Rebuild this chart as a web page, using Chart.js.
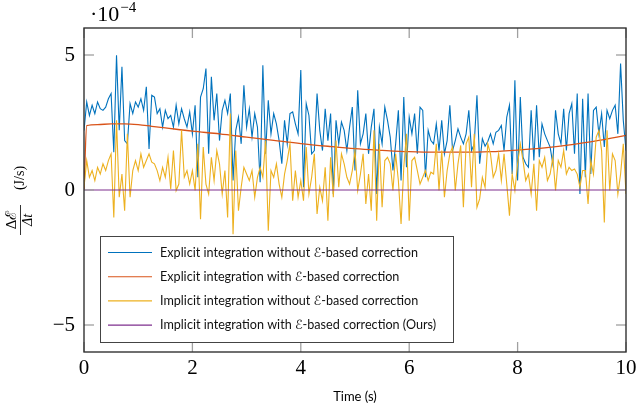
<!DOCTYPE html>
<html>
<head>
<meta charset="utf-8">
<script src="https://cdn.jsdelivr.net/npm/chart.js@4.4.1/dist/chart.umd.min.js"></script>
<style>
  html,body{margin:0;padding:0;background:#fff}
  canvas{display:block}
</style>
</head>
<body>
<canvas id="energyChart" width="637" height="414"></canvas>
<script>
// values are in units of 1e-4 J/s (axis shows the ·10^-4 multiplier)
const DT = 0.05;
const TIMES = Array.from({length:201},(_,i)=>+(i*DT).toFixed(2));

const EXPLICIT_NO_CORR = [
  2.20,3.26,2.76,3.14,2.83,3.26,3.01,2.95,3.07,3.38,3.57,1.40,4.99,2.21,4.56,1.83,1.71,3.20,2.83,3.26,3.07,3.38,2.95,3.82,1.52,
  3.51,3.44,2.83,3.01,2.33,2.95,2.64,2.76,2.33,3.14,2.45,3.01,2.64,2.33,2.89,2.08,3.14,0.47,3.44,3.75,4.50,1.34,4.19,2.58,3.57,1.83,
  2.95,3.32,2.83,3.57,0.35,2.21,2.70,1.71,3.88,2.33,3.01,1.96,2.83,2.33,0.29,4.62,1.34,3.32,2.08,2.83,2.45,1.83,0.97,2.58,1.71,
  2.83,2.89,2.45,2.08,4.44,0.10,3.20,2.76,1.34,1.46,3.57,2.21,1.46,3.01,1.83,2.83,-0.15,2.58,1.71,2.52,2.21,1.46,2.33,3.07,0.72,
  3.69,1.71,2.08,2.83,1.34,2.33,3.01,-0.15,2.33,1.71,3.07,2.58,1.96,0.72,1.71,2.95,0.35,3.44,0.84,2.70,2.08,2.83,1.34,3.07,2.95,
  0.47,2.21,1.83,1.71,2.45,1.46,2.58,1.34,1.83,3.14,1.46,1.83,2.27,1.96,1.71,2.08,2.95,1.46,1.71,3.51,0.97,1.90,1.62,1.80,2.08,
  1.71,2.14,2.21,2.39,1.46,2.70,3.14,0.59,4.06,0.35,3.44,1.21,0.97,0.84,2.95,1.09,3.14,1.21,2.45,2.08,1.83,1.59,0.97,2.95,2.08,
  1.71,3.01,1.46,2.83,3.20,1.34,3.57,-0.15,3.38,0.47,3.57,0.59,2.95,3.07,2.08,2.83,1.59,2.95,2.64,2.95,3.14,2.08,4.68,2.58,1.46
];

const IMPLICIT_NO_CORR = [
  0.10,1.09,0.47,0.72,0.35,0.84,0.59,0.97,0.72,1.09,1.34,-1.02,2.58,-0.27,0.59,-0.77,2.08,-0.27,0.72,1.09,0.72,1.34,0.84,1.09,1.34,
  1.03,0.97,0.72,0.35,0.84,0.47,1.21,0.04,1.46,-0.02,0.22,2.21,0.47,0.72,0.22,0.72,-0.02,1.71,-1.08,1.59,0.22,-0.15,1.21,0.35,1.46,0.97,
  -0.15,0.72,-1.02,2.83,-1.64,1.46,-0.77,0.10,0.84,0.59,0.35,0.72,-0.27,0.47,0.84,0.47,1.83,-1.51,0.72,0.47,0.97,0.22,-0.27,0.59,1.09,
  1.71,-0.40,0.72,-0.27,0.35,-0.40,1.59,-0.15,0.47,1.34,-0.89,0.10,-0.40,0.84,-1.14,1.21,-0.27,1.83,0.10,1.34,0.97,0.47,0.22,0.72,1.46,
  -0.02,0.59,1.34,-0.52,0.59,-0.77,2.21,-1.14,1.71,-0.64,1.09,1.21,0.97,-0.02,1.34,0.35,-1.26,0.84,2.08,-1.14,1.09,1.21,0.72,0.22,0.47,
  0.72,0.35,0.66,0.59,1.71,-0.02,1.46,-0.27,0.72,1.34,1.59,-0.02,0.97,1.65,-0.64,1.71,1.96,0.10,2.08,-0.64,-0.33,0.47,0.10,1.71,1.34,
  0.47,0.72,1.34,0.35,1.34,0.22,-0.95,0.59,-0.02,0.97,1.71,1.09,0.35,0.59,-0.15,0.97,-0.77,1.09,0.84,1.21,0.35,0.59,1.21,-0.02,1.09,
  0.84,1.46,0.59,0.84,0.72,0.78,0.59,0.10,0.72,0.72,-0.52,1.09,0.59,1.96,2.21,1.46,-1.20,2.21,-0.02,1.34,1.09,-0.15,0.59,1.71,-0.15
];

// smooth curve, sampled more sparsely
const EXPLICIT_CORR_T = [0,0.05,0.25,0.5,0.75,1,1.25,1.5,2,2.5,3,3.5,4,4.5,5,5.5,6,6.5,7,7.5,8,8.5,9,9.5,10];
const EXPLICIT_CORR   = [0,2.38,2.42,2.45,2.45,2.42,2.36,2.30,2.18,2.08,1.96,1.84,1.72,1.62,1.53,1.47,1.42,1.40,1.40,1.42,1.48,1.56,1.68,1.84,2.02];

const IMPLICIT_CORR_T = [0,10];
const IMPLICIT_CORR   = [0,0];

const X_TICKS = [0,2,4,6,8,10];
const Y_TICKS = [-5,0,5];

const SERIES_NAMES = [
  'Explicit integration without \u2130-based correction',
  'Explicit integration with \u2130-based correction',
  'Implicit integration without \u2130-based correction',
  'Implicit integration with \u2130-based correction (Ours)'
];
const COLORS = ['#0072BD','#D95319','#EDB120','#7E2F8E'];

const pts=(xs,ys)=>xs.map((x,i)=>({x,y:ys[i]}));
const SERIF='"Liberation Serif","DejaVu Serif",serif';
const SANS='Lato,"DejaVu Sans",sans-serif';

const decor = {
  id:'decor',
  afterDraw(chart){
    const {ctx, chartArea:a, scales:{x,y}} = chart;
    const ln=(x1,y1,x2,y2)=>{ctx.beginPath();ctx.moveTo(x1,y1);ctx.lineTo(x2,y2);ctx.stroke();};
    ctx.save();
    // inward ticks
    ctx.strokeStyle='#a0a0a0'; ctx.lineWidth=1.3;
    X_TICKS.forEach(v=>{const p=x.getPixelForValue(v); ln(p,a.bottom,p,a.bottom-10); ln(p,a.top,p,a.top+10);});
    Y_TICKS.forEach(v=>{const p=y.getPixelForValue(v); ln(a.left,p,a.left+10,p); ln(a.right,p,a.right-10,p);});
    // frame
    ctx.strokeStyle='#333'; ctx.lineWidth=1.4;
    ctx.strokeRect(a.left,a.top,a.right-a.left,a.bottom-a.top);
    // tick labels
    ctx.fillStyle='#000'; ctx.font='21px '+SERIF;
    ctx.textAlign='center'; ctx.textBaseline='top';
    X_TICKS.forEach(v=>ctx.fillText(String(v),x.getPixelForValue(v),a.bottom+6));
    ctx.textAlign='right'; ctx.textBaseline='middle';
    Y_TICKS.forEach(v=>ctx.fillText(v<0?'\u2212'+Math.abs(v):String(v),a.left-9,y.getPixelForValue(v)));
    // multiplier
    ctx.textAlign='left'; ctx.textBaseline='alphabetic';
    ctx.font='22px '+SERIF; ctx.fillText('\u00b710',90,21);
    const w=ctx.measureText('\u00b710').width;
    ctx.font='15px '+SERIF; ctx.fillText('\u22124',90+w+1,12);
    // x title
    ctx.font='13px '+SANS; ctx.textAlign='center'; ctx.textBaseline='middle';
    ctx.fillText('Time (s)',(a.left+a.right)/2,397);
    // y title (rotated fraction)
    ctx.save();
    ctx.translate(20,199); ctx.rotate(-Math.PI/2);
    ctx.textAlign='center'; ctx.textBaseline='middle';
    ctx.font='15px '+SERIF; ctx.fillText('\u0394\u2130',-21,-8);
    ctx.font='italic 14px '+SERIF; ctx.fillText('\u0394t',-21,8);
    ctx.lineWidth=0.8; ctx.strokeStyle='#000'; ln(-36,0.5,-6,0.5);
    ctx.font='14px '+SERIF; ctx.fillText('(J/s)',21,0);
    ctx.restore();
    // legend box
    const L={x:100,y:236,w:353,h:106};
    ctx.fillStyle='#fff'; ctx.fillRect(L.x,L.y,L.w,L.h);
    ctx.strokeStyle='#444'; ctx.lineWidth=1; ctx.strokeRect(L.x+0.5,L.y+0.5,L.w,L.h);
    ctx.font='12px '+SANS;
    const fs=12*258/ctx.measureText(SERIES_NAMES[0]).width;
    ctx.font=fs.toFixed(2)+'px '+SANS;
    ctx.textAlign='left'; ctx.textBaseline='middle';
    SERIES_NAMES.forEach((name,i)=>{
      const ry=252.5+i*24.2;
      ctx.strokeStyle=COLORS[i]; ctx.lineWidth=1.1; ln(108,ry,152,ry);
      ctx.fillStyle='#111'; ctx.fillText(name,160,ry);
    });
    ctx.restore();
  }
};

const lineDs=(label,data,color,extra)=>Object.assign({
  label,data,borderColor:color,backgroundColor:color,borderWidth:1.1,
  pointRadius:0,tension:0,fill:false
},extra||{});

new Chart(document.getElementById('energyChart'),{
  type:'line',
  data:{datasets:[
    lineDs(SERIES_NAMES[3],pts(IMPLICIT_CORR_T,IMPLICIT_CORR),COLORS[3]),
    lineDs(SERIES_NAMES[2],pts(TIMES,IMPLICIT_NO_CORR),COLORS[2]),
    lineDs(SERIES_NAMES[1],pts(EXPLICIT_CORR_T,EXPLICIT_CORR),COLORS[1],{cubicInterpolationMode:'monotone',borderWidth:1.3}),
    lineDs(SERIES_NAMES[0],pts(TIMES,EXPLICIT_NO_CORR),COLORS[0])
  ]},
  options:{
    responsive:false,animation:false,devicePixelRatio:1,
    layout:{padding:{left:84,right:11,top:28,bottom:62}},
    plugins:{legend:{display:false},tooltip:{enabled:false}},
    scales:{
      x:{type:'linear',min:0,max:10,display:false},
      y:{type:'linear',min:-6,max:6,display:false}
    }
  },
  plugins:[decor]
});
</script>
</body>
</html>
